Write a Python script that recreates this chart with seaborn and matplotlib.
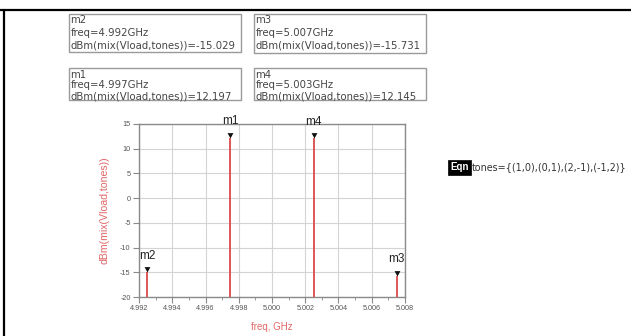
import numpy as np
import pandas as pd
import matplotlib
matplotlib.use("Agg")
import matplotlib.pyplot as plt
from matplotlib.patches import Rectangle
from matplotlib.lines import Line2D
import seaborn as sns

# Marker readouts of the two-tone mixer spectrum
marker_names = ["m1", "m2", "m3", "m4"]
freq_ghz = [4.99749, 4.99249, 5.00749, 5.00251]
level_dbm = [12.197, -15.029, -15.731, 12.145]

x_ticks = [4.992, 4.994, 4.996, 4.998, 5.000, 5.002, 5.004, 5.006, 5.008]
y_ticks = [-20, -15, -10, -5, 0, 5, 10, 15]

tones_text = "tones={(1,0),(0,1),(2,-1),(-1,2)}"

sns.set_theme(style="white")
plt.rcParams["font.family"] = ["Liberation Sans", "DejaVu Sans"]

W, H = 631, 336
fig = plt.figure(figsize=(W / 100, H / 100), dpi=100)

def fx(px):
    return px / W

def fy(py):
    return 1 - py / H

ax = fig.add_axes([fx(139), fy(297), fx(405) - fx(139), fy(124) - fy(297)])

df = pd.DataFrame({"marker": marker_names, "freq": freq_ghz, "dbm": level_dbm})

red = "#dc4a4a"
ax.vlines(df["freq"], -20, df["dbm"], color=red, lw=1.3, zorder=3)

tri = [(-0.65, 1.2), (0.65, 1.2), (0.0, 0.0)]
sns.scatterplot(data=df, x="freq", y="dbm", marker=tri, color="#111111",
                s=60, linewidth=0, ax=ax, legend=False, zorder=4)

for name, f, v in zip(marker_names, freq_ghz, level_dbm):
    ax.annotate(name, (f, v), xytext=(0, 7.5), textcoords="offset points",
                ha="center", va="bottom", fontsize=8.5, color="#222222",
                annotation_clip=False, zorder=5)

ax.set_xlim(4.992, 5.008)
ax.set_ylim(-20, 15)
ax.set_xticks(x_ticks)
ax.set_xticklabels([f"{t:.3f}" for t in x_ticks])
ax.set_xticks(np.arange(4.993, 5.008, 0.002), minor=True)
ax.set_yticks(y_ticks)
ax.set_yticklabels([str(t) for t in y_ticks])
ax.set_xlabel("")
ax.set_ylabel("")

ax.grid(True, which="major", color="#d4d4d4", lw=0.8)
for s in ax.spines.values():
    s.set_color("#8a8a8a")
    s.set_linewidth(1.0)
ax.tick_params(axis="both", which="major", direction="out", length=4,
               width=0.8, color="#8a8a8a", labelsize=5.2, labelcolor="#555555",
               pad=2, bottom=True, left=True)
ax.tick_params(axis="x", which="minor", direction="out", length=2,
               width=0.6, color="#8a8a8a", bottom=True)

fig.text(fx(272), fy(327), "freq, GHz", fontsize=7, color="#e06666",
         ha="center", va="center")
fig.text(fx(104), fy(210), "dBm(mix(Vload,tones))", fontsize=7.6,
         color="#e06666", ha="center", va="center", rotation=90)

# marker readout boxes: name, left, top, width, height, first line y, line step
boxes = [
    ("m2", 69, 14, 172, 38, 20, 13),
    ("m3", 254, 14, 172, 39, 20, 13),
    ("m1", 69, 68, 172, 32, 74.5, 11),
    ("m4", 254, 68, 172, 32, 74.5, 11),
]
for name, bx, by, bw, bh, ty, step in boxes:
    i = marker_names.index(name)
    fig.patches.append(Rectangle((fx(bx), fy(by + bh)), bw / W, bh / H,
                                 transform=fig.transFigure, fill=False,
                                 edgecolor="#9a9a9a", lw=1.0))
    lines = [name,
             f"freq={freq_ghz[i]:.3f}GHz",
             f"dBm(mix(Vload,tones))={level_dbm[i]:.3f}"]
    for k, t in enumerate(lines):
        fig.text(fx(bx + 1.5), fy(ty + step * k), t, fontsize=7.25,
                 family="DejaVu Sans", color="#454545", ha="left", va="center")

# equation block
fig.patches.append(Rectangle((fx(448), fy(175)), 23 / W, 15 / H,
                             transform=fig.transFigure, facecolor="black",
                             edgecolor="black", lw=0.5))
fig.text(fx(459.5), fy(167.5), "Eqn", fontsize=7, color="white",
         ha="center", va="center", fontweight="bold")
fig.text(fx(472), fy(167.5), tones_text, fontsize=6.9, family="DejaVu Sans",
         color="#333333", ha="left", va="center")

# page frame
fig.add_artist(Line2D([0, 1], [fy(10), fy(10)], transform=fig.transFigure,
                      color="black", lw=1.6))
fig.add_artist(Line2D([fx(4), fx(4)], [fy(10), 0], transform=fig.transFigure,
                      color="black", lw=1.6))

fig.savefig("out.png", dpi=100)
